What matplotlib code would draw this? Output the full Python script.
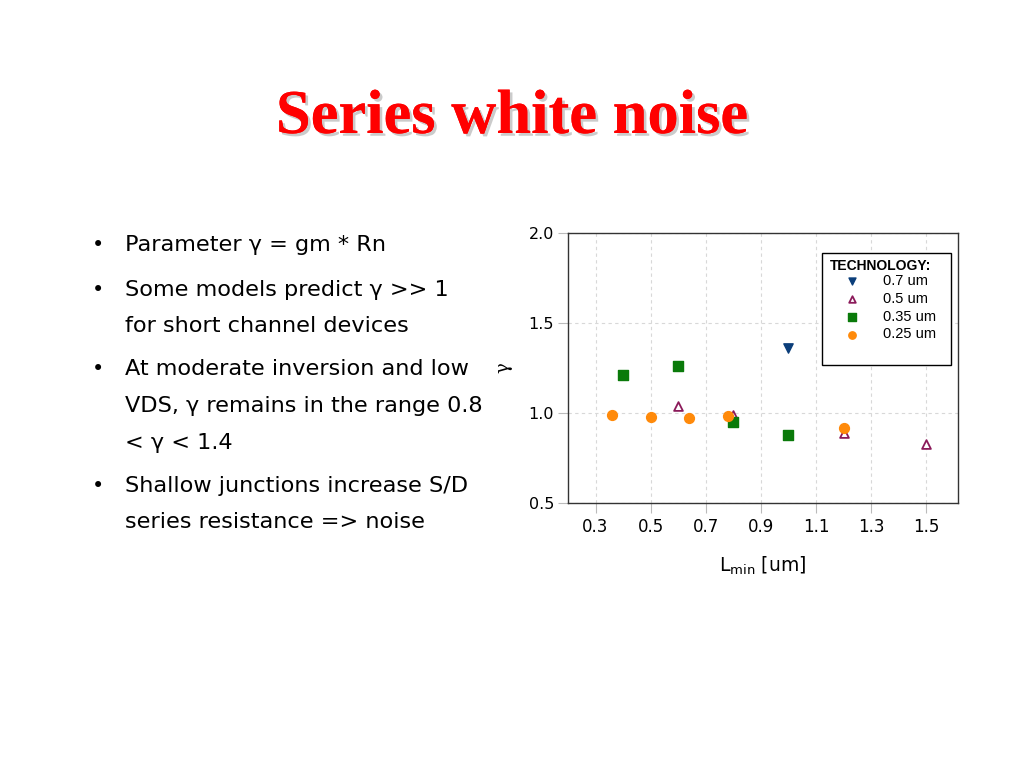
import matplotlib
matplotlib.use("Agg")
import matplotlib.pyplot as plt
import matplotlib.patheffects as pe
from matplotlib.patches import Rectangle

# ---- data ----
x_07 = [1.0]
y_07 = [1.36]
x_05 = [0.6, 0.8, 1.2, 1.5]
y_05 = [1.04, 0.99, 0.89, 0.83]
x_035 = [0.4, 0.6, 0.8, 1.0]
y_035 = [1.21, 1.26, 0.95, 0.88]
x_025 = [0.36, 0.5, 0.64, 0.78, 1.2]
y_025 = [0.99, 0.98, 0.97, 0.985, 0.915]
xticks = [0.3, 0.5, 0.7, 0.9, 1.1, 1.3, 1.5]
yticks = [0.5, 1.0, 1.5, 2.0]
labels = ["0.7 um", "0.5 um", "0.35 um", "0.25 um"]

title = "Series white noise"
bullets = [
    ["Parameter γ = gm * Rn"],
    ["Some models predict γ >> 1", "for short channel devices"],
    ["At moderate inversion and low", "VDS, γ remains in the range 0.8", "< γ < 1.4"],
    ["Shallow junctions increase S/D", "series resistance => noise"],
]

fig = plt.figure(figsize=(10.24, 7.68), dpi=100)
fig.patch.set_facecolor("white")

# Title
fig.text(0.5, 1 - 118 / 768, title, ha="center", va="center",
         fontsize=45, fontweight="bold", color="#ff0000",
         family="Liberation Serif",
         path_effects=[pe.withSimplePatchShadow(offset=(2, -2), shadow_rgbFace="#999999", alpha=0.5),
                       pe.Normal()])

# Bullets
line_y = [245, 290, 326, 369, 406, 443, 486, 522]
k = 0
for group in bullets:
    fig.text(92 / 1024, 1 - line_y[k] / 768, "•", ha="left", va="center",
             fontsize=15, color="black", family="DejaVu Sans")
    for line in group:
        fig.text(125 / 1024, 1 - line_y[k] / 768, line, ha="left", va="center",
                 fontsize=16.1, color="black", family="DejaVu Sans")
        k += 1

# Chart
ax = fig.add_axes([568 / 1024, 1 - 503 / 768, 390 / 1024, 270 / 768])
ax.scatter(x_07, y_07, marker="v", s=45, color="#0b3e7a", label=labels[0], zorder=3)
ax.scatter(x_05, y_05, marker="^", s=40, facecolors="white", edgecolors="#8b1a5a",
           linewidths=1.3, label=labels[1], zorder=3)
ax.scatter(x_035, y_035, marker="s", s=55, color="#0a7a0a", label=labels[2], zorder=3)
ax.scatter(x_025, y_025, marker="o", s=50, color="#ff8a0a", label=labels[3], zorder=4)

ax.set_xlim(0.2, 1.615)
ax.set_ylim(0.5, 2.0)
ax.set_xticks(xticks)
ax.set_yticks(yticks)
ax.set_xticklabels([f"{v:.1f}" for v in xticks], family="DejaVu Sans", fontsize=12)
ax.set_yticklabels([f"{v:.1f}" for v in yticks], family="DejaVu Sans", fontsize=11.5)
ax.grid(True, color="#d8d8d8", linestyle=(0, (3, 3)), linewidth=0.8)
ax.set_axisbelow(True)
for s in ax.spines.values():
    s.set_color("#333333")
    s.set_linewidth(1.0)
ax.tick_params(axis="x", direction="out", length=7, width=0.8, color="#bbbbbb", pad=4)
ax.tick_params(axis="y", direction="out", length=7, width=0.8, color="#bbbbbb", pad=3)

ax.set_xlabel(r"L$_{\mathrm{min}}$ [um]", family="DejaVu Sans", fontsize=13.5, labelpad=13)
ax.set_ylabel("γ", family="DejaVu Serif", fontsize=13, rotation=90, labelpad=12)

# legend frame drawn separately
ax.add_patch(Rectangle((0.651, 0.511), 0.331, 0.415, transform=ax.transAxes,
                       facecolor="white", edgecolor="black", linewidth=1.0, zorder=5))
leg = ax.legend(title="TECHNOLOGY:", loc="upper left", bbox_to_anchor=(0.672, 0.905),
                frameon=False, prop={"family": "Liberation Sans", "size": 10.5},
                handletextpad=0.6, borderpad=0, labelspacing=0.26,
                handlelength=3.0, borderaxespad=0, markerscale=0.75)
leg.set_zorder(6)
leg.get_title().set_fontweight("bold")
leg.get_title().set_fontsize(10)
leg.get_title().set_family("Liberation Sans")
leg._legend_box.align = "left"
leg._legend_box.sep = 1

fig.savefig("out.png", dpi=100, facecolor="white")
